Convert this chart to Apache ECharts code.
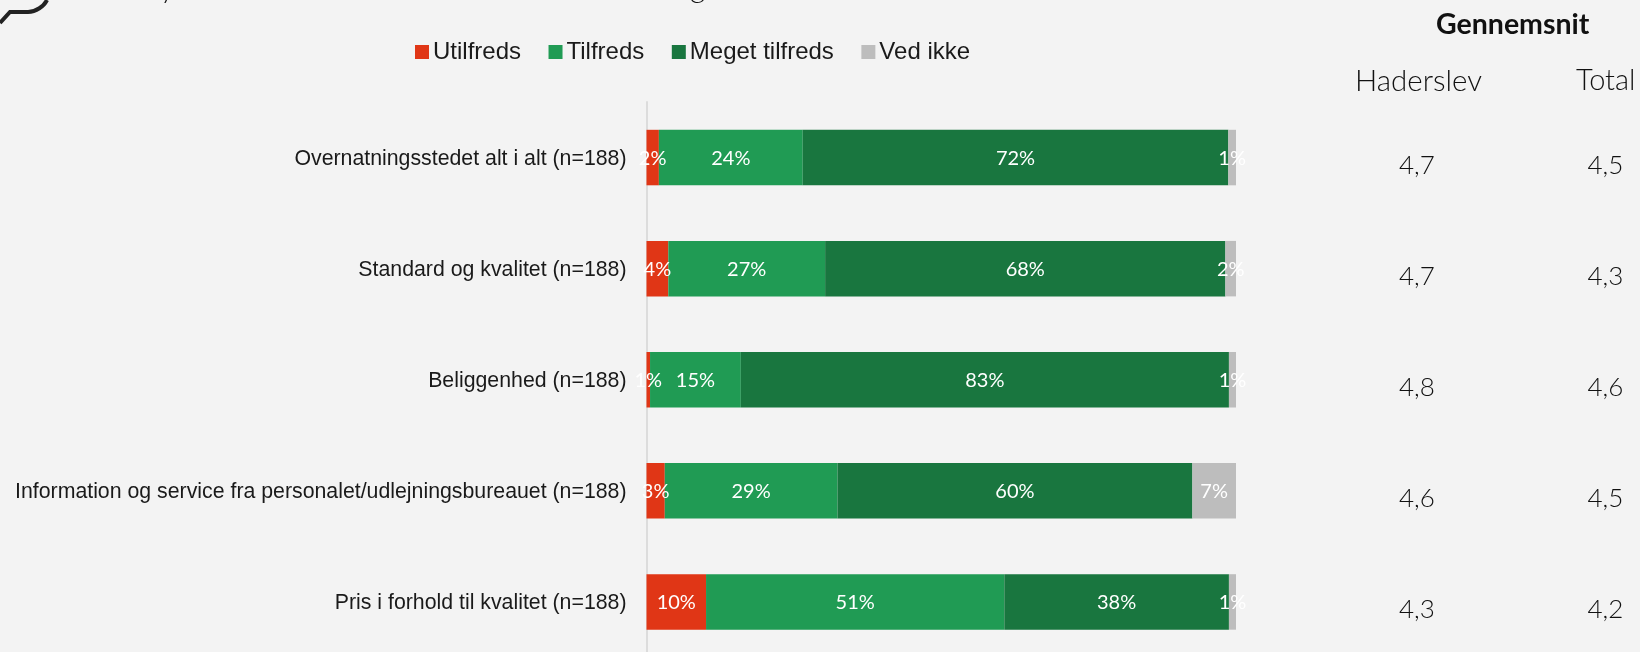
<!DOCTYPE html>
<html><head><meta charset="utf-8">
<style>html,body{margin:0;padding:0;background:#f3f3f3}#c{width:1640px;height:652px}</style>
<script src="https://cdn.jsdelivr.net/npm/echarts@6/dist/echarts.min.js"></script>
</head><body><div id="c"></div>
<script>
const categories = ["Overnatningsstedet alt i alt (n=188)","Standard og kvalitet (n=188)","Beliggenhed (n=188)","Information og service fra personalet/udlejningsbureauet (n=188)","Pris i forhold til kvalitet (n=188)"];
const utilfreds = [2.1,3.7,0.6,3.1,10.1];
const tilfreds = [24.4,26.6,15.4,29.3,50.6];
const megetTilfreds = [72.2,67.9,82.8,60.2,38.1];
const vedIkke = [1.3,1.8,1.2,7.4,1.2];
const haderslev = ["4,7","4,7","4,8","4,6","4,3"];
const total = ["4,5","4,3","4,6","4,5","4,2"];
const labelFont = "Lato,sans-serif";
function bar(name,data,color){
  return {name,type:'bar',stack:'a',data,barWidth:55.5,itemStyle:{color},
    label:{show:true,position:'inside',offset:[0,1],color:'#fff',fontFamily:labelFont,fontSize:20,formatter:p=>Math.round(p.value)+'%'}};
}
const chart = echarts.init(document.getElementById('c'),null,{renderer:'canvas'});
const cy = i => 165.5 + i*111.1;
const avg = [];
haderslev.forEach((v,i)=>avg.push({type:'text',left:1399,top:cy(i)-13,style:{text:v,font:"300 26px Lato",fill:'#111'}}));
total.forEach((v,i)=>avg.push({type:'text',left:1587.5,top:cy(i)-13,style:{text:v,font:"300 26px Lato",fill:'#111'}}));
chart.setOption({
  backgroundColor:'#f3f3f3',animation:false,
  legend:{top:40,left:415,padding:0,itemWidth:14,itemHeight:14,itemGap:27.5,icon:'rect',
    textStyle:{fontFamily:'Liberation Sans',fontSize:24,color:'#1a1a1a',padding:[0,0,0,-1]},
    data:['Utilfreds','Tilfreds','Meget tilfreds','Ved ikke']},
  grid:{left:646.5,width:589.5,top:102,height:555.5,outerBoundsMode:'none'},
  xAxis:{type:'value',min:0,max:100,show:false},
  yAxis:{type:'category',inverse:true,data:categories,
    axisLine:{show:true,lineStyle:{color:'#dcdcdc',width:2}},axisTick:{show:false},
    axisLabel:{margin:20,formatter:v=>'{a|'+v+'}',rich:{a:{fontFamily:'Liberation Sans',fontSize:21.3,color:'#1a1a1a',padding:[3,0,0,0]}}}},
  series:[bar('Utilfreds',utilfreds,'#e03616'),bar('Tilfreds',tilfreds,'#209b54'),bar('Meget tilfreds',megetTilfreds,'#19763f'),bar('Ved ikke',vedIkke,'#bdbdbd')],
  graphic:[
    {type:'polyline',shape:{points:[[0,23],[10,12],[28,12]]},style:{fill:null,stroke:'#222',lineWidth:4}},
    {type:'bezierCurve',shape:{x1:28,y1:12,cpx1:36,cpy1:12,cpx2:44,cpy2:6,x2:47,y2:0},style:{fill:null,stroke:'#222',lineWidth:4}},
    {type:'text',x:160,y:3,style:{text:'y',font:"300 30px Lato",fill:'#111',verticalAlign:'bottom'}},
    {type:'text',x:690,y:3,style:{text:'g',font:"300 30px Lato",fill:'#111',verticalAlign:'bottom'}},
    {type:'text',left:1436,top:10,style:{text:'Gennemsnit',font:"bold 28.5px Lato",fill:'#111'}},
    {type:'text',left:1355,top:66,style:{text:'Haderslev',font:"300 29.5px Lato",fill:'#111'}},
    {type:'text',left:1576,top:66,style:{text:'Total',font:"300 29px Lato",fill:'#111'}},
    ...avg]
});
</script></body></html>
